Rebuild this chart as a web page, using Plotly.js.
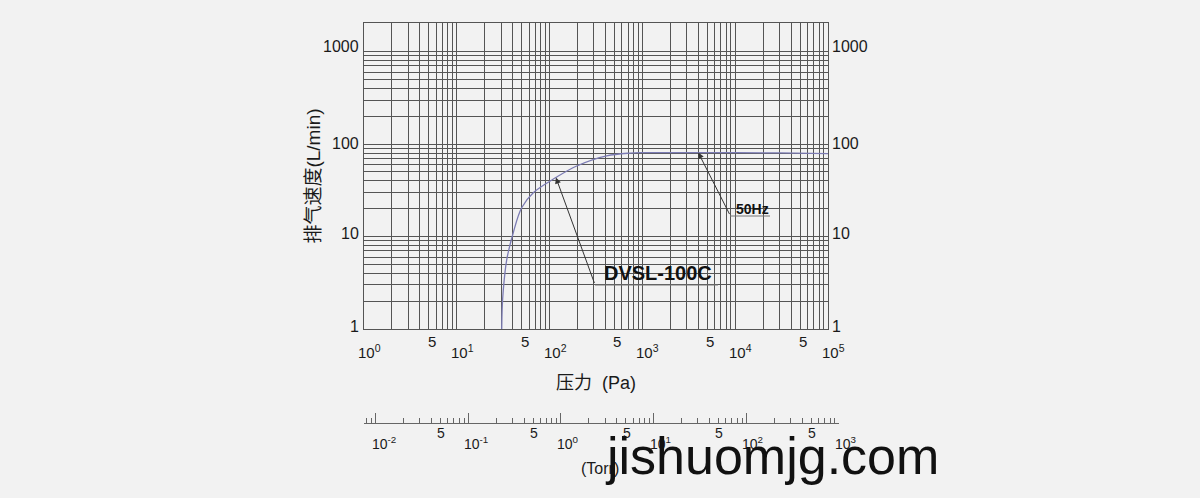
<!DOCTYPE html>
<html>
<head>
<meta charset="utf-8">
<script src="https://cdn.plot.ly/plotly-3.0.1.min.js"></script>
<style>
html,body{margin:0;padding:0;background:#f2f2f2;}
#chart{width:1200px;height:498px;}
</style>
</head>
<body>
<div id="chart"></div>
<script>
// ---------------- data ----------------
const pressurePa = [30.5, 30.9, 31.7, 34.5, 40.6, 50, 66.7, 117, 196, 412, 735, 1000, 2000, 4000, 10000, 30000, 100000];
const flowLmin   = [1.0, 1.75, 2.65, 5.6, 11, 20.5, 29.8, 43.5, 58, 74.6, 80, 80.8, 81, 81, 80.8, 80.3, 79];

const paDecadeExps = [0, 1, 2, 3, 4, 5];
const paFiveTicks = [5, 50, 500, 5000, 50000];
const flowTicks = [1, 10, 100, 1000];
const flowTickLabels = ['1', '10', '100', '1000'];
const torrDecadeExps = [-2, -1, 0, 1, 2, 3];
const torrFiveTicks = [0.05, 0.5, 5, 50, 500];

const seriesName = 'DVSL-100C';
const freqLabel = '50Hz';
const xTitle = '压力\u00a0\u00a0(Pa)';
const yTitle = '排气速度(L/min)';
const torrTitle = '(Torr)';
const watermark = 'jishuomjg.com';
const PA_PER_TORR = 133.322;

// --------------- helpers ---------------
function logGrid(e0, e1) {
  const v = [];
  for (let e = e0; e < e1; e++) for (let m = 1; m <= 9; m++) v.push(m * Math.pow(10, e));
  v.push(Math.pow(10, e1));
  return v;
}
const paGrid = logGrid(0, 5);
const flowGrid = logGrid(0, 3);
const torrMajor = torrDecadeExps.map(e => Math.pow(10, e));
const torrMinor = [];
for (let e = -3; e < 3; e++) for (let m = 2; m <= 9; m++) torrMinor.push(m * Math.pow(10, e));

const LAT = 'Liberation Sans, Arial, sans-serif';
const CJK = 'Liberation Sans, Noto Sans CJK SC, sans-serif';
const GRID = '#555555';
const TXT = '#1a1a1a';

// paper coordinate helpers (plot area: x 364..839 px, y 23..430 px)
const px = X => (X - 364) / 475;
const py = Y => (430 - Y) / 407;

const traces = [
  {
    x: pressurePa, y: flowLmin, xaxis: 'x', yaxis: 'y',
    type: 'scatter', mode: 'lines', name: seriesName,
    line: {color: '#7c7cb4', width: 1.3, shape: 'spline', smoothing: 1},
    hoverinfo: 'x+y'
  },
  {
    x: pressurePa.map(p => p / PA_PER_TORR), y: pressurePa.map(() => 0.5),
    xaxis: 'x2', yaxis: 'y2', type: 'scatter', mode: 'lines',
    opacity: 0, hoverinfo: 'skip', showlegend: false
  }
];

const labelShift = [3, 3, 1, 5];
const annotations = [];
// left & right flow labels
flowTicks.forEach((v, i) => {
  annotations.push({xref: 'paper', yref: 'y', x: 0, y: Math.log10(v), xanchor: 'right', yanchor: 'middle',
    xshift: -3, yshift: labelShift[i], text: flowTickLabels[i], showarrow: false,
    font: {family: LAT, size: 16, color: TXT}});
  annotations.push({xref: 'paper', yref: 'y', x: 464 / 475, y: Math.log10(v), xanchor: 'left', yanchor: 'middle',
    xshift: 2, yshift: labelShift[i], text: flowTickLabels[i], showarrow: false,
    font: {family: LAT, size: 16, color: TXT}});
});
// Pa decade labels
paDecadeExps.forEach(e => {
  annotations.push({xref: 'x', yref: 'paper', x: e, y: py(351), xanchor: 'left', yanchor: 'middle',
    xshift: -8, text: '10<sup>' + e + '</sup>', showarrow: false,
    font: {family: LAT, size: 15, color: TXT}});
});
paFiveTicks.forEach(v => {
  annotations.push({xref: 'x', yref: 'paper', x: Math.log10(v), y: py(341), xanchor: 'center', yanchor: 'middle',
    xshift: 3, text: '5', showarrow: false, font: {family: LAT, size: 15, color: TXT}});
});
// Torr labels
torrDecadeExps.forEach(e => {
  annotations.push({xref: 'x2', yref: 'paper', x: e, y: py(443), xanchor: 'left', yanchor: 'middle',
    xshift: -6, text: '10<sup>' + e + '</sup>', showarrow: false,
    font: {family: LAT, size: 14, color: TXT}});
});
torrFiveTicks.forEach(v => {
  annotations.push({xref: 'x2', yref: 'paper', x: Math.log10(v), y: py(433), xanchor: 'center', yanchor: 'middle',
    xshift: 1, text: '5', showarrow: false, font: {family: LAT, size: 14, color: TXT}});
});
annotations.push({xref: 'paper', yref: 'paper', x: px(600), y: py(468), xanchor: 'center', yanchor: 'middle',
  text: torrTitle, showarrow: false, font: {family: LAT, size: 16, color: TXT}});

// arrows pointing at the curve
annotations.push({xref: 'x', yref: 'y', x: Math.log10(pressurePa[7]), y: Math.log10(flowLmin[7]),
  text: '', showarrow: true, axref: 'pixel', ayref: 'pixel', ax: 39, ay: 107,
  arrowhead: 2, arrowsize: 1.2, arrowwidth: 1, arrowcolor: '#333', standoff: 0, startstandoff: 0});
annotations.push({xref: 'x', yref: 'y', x: Math.log10(pressurePa[13]), y: Math.log10(flowLmin[13]),
  text: '', showarrow: true, axref: 'pixel', ayref: 'pixel', ax: 32, ay: 63,
  arrowhead: 2, arrowsize: 1.2, arrowwidth: 1, arrowcolor: '#333', standoff: 0, startstandoff: 0});
annotations.push({xref: 'paper', yref: 'paper', x: px(658), y: py(273), xanchor: 'center', yanchor: 'middle',
  text: seriesName, showarrow: false, font: {family: LAT, size: 20, color: '#111', weight: 'bold'}});
annotations.push({xref: 'paper', yref: 'paper', x: px(752), y: py(209), xanchor: 'center', yanchor: 'middle',
  text: freqLabel, showarrow: false, font: {family: LAT, size: 14, color: '#111', weight: 'bold'}});
// watermark
annotations.push({xref: 'paper', yref: 'paper', x: px(603), y: py(456), xanchor: 'left', yanchor: 'middle',
  text: watermark, showarrow: false, font: {family: LAT, size: 52, color: '#111'}});

const shapes = [
  {type: 'line', xref: 'paper', yref: 'paper', x0: px(595), x1: px(718), y0: py(285), y1: py(285),
   line: {color: '#777', width: 1}},
  {type: 'line', xref: 'paper', yref: 'paper', x0: px(730), x1: px(770), y0: py(216), y1: py(216),
   line: {color: '#777', width: 1}}
];

const layout = {
  width: 1200, height: 498,
  paper_bgcolor: '#f2f2f2', plot_bgcolor: '#f2f2f2',
  margin: {l: 364, r: 361, t: 23, b: 68, pad: 0},
  showlegend: false,
  xaxis: {
    type: 'log', domain: [0, 464 / 475], range: [0, 5], anchor: 'y',
    tickmode: 'array', tickvals: paGrid, showticklabels: false, ticks: '',
    showgrid: true, gridcolor: GRID, gridwidth: 1,
    showline: true, mirror: true, linecolor: GRID, linewidth: 1, zeroline: false,
    title: {text: xTitle, font: {family: CJK, size: 18, color: TXT}, standoff: 47}
  },
  yaxis: {
    type: 'log', domain: [101 / 407, 1], range: [0, 3.31], anchor: 'x',
    tickmode: 'array', tickvals: flowGrid, showticklabels: false, ticks: '',
    showgrid: true, gridcolor: GRID, gridwidth: 1,
    showline: true, mirror: true, linecolor: GRID, linewidth: 1, zeroline: false,
    title: {text: yTitle, font: {family: CJK, size: 19, color: TXT}, standoff: 37}
  },
  xaxis2: {
    type: 'log', domain: [0, 1], range: [Math.log10(1 / PA_PER_TORR), 3], anchor: 'y2',
    tickmode: 'array', tickvals: torrMajor, ticks: 'inside', ticklen: 10, tickwidth: 1, tickcolor: '#666',
    showticklabels: false, showgrid: false, showline: true, linecolor: '#666', linewidth: 1, zeroline: false,
    minor: {tickmode: 'array', tickvals: torrMinor, ticks: 'inside', ticklen: 5, tickwidth: 1, tickcolor: '#666', showgrid: false}
  },
  yaxis2: {domain: [7 / 407, 0.03], anchor: 'x2', range: [0, 1], visible: false, fixedrange: true},
  annotations: annotations,
  shapes: shapes
};

Plotly.newPlot('chart', traces, layout, {staticPlot: true, displayModeBar: false});
</script>
</body>
</html>
